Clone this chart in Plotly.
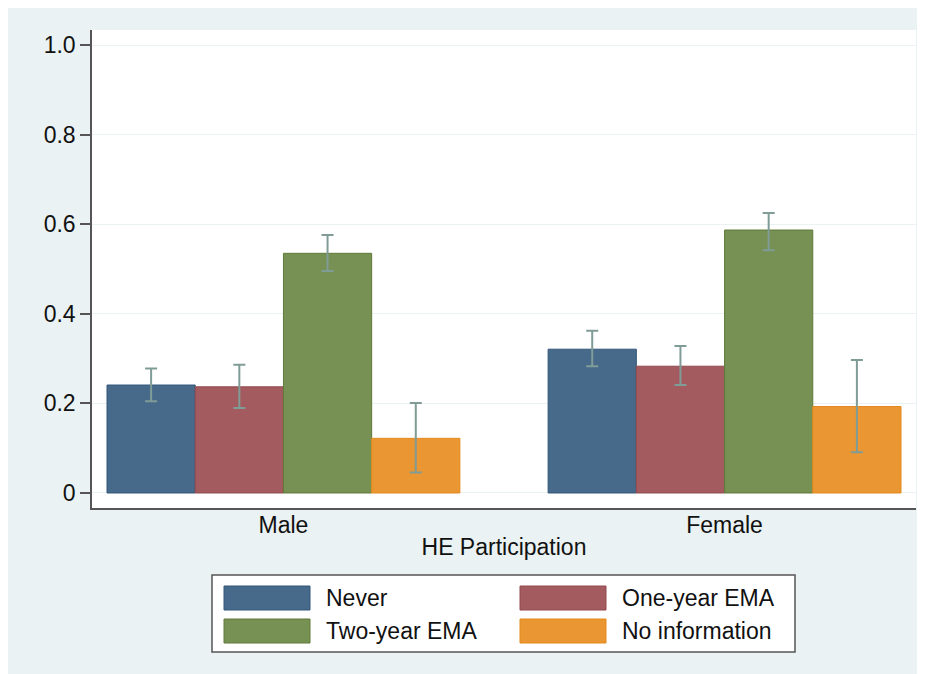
import plotly.graph_objects as go

groups = ["Male", "Female"]
series = ["Never", "One-year EMA", "Two-year EMA", "No information"]
colors = ["#476a8b", "#a45b5f", "#779053", "#ea9632"]
lines = ["#33577a", "#94494e", "#5f7a3a", "#e48a1f"]

means = {
    "Never": [0.241, 0.321],
    "One-year EMA": [0.237, 0.283],
    "Two-year EMA": [0.535, 0.587],
    "No information": [0.122, 0.193],
}
upper = {
    "Never": [0.278, 0.362],
    "One-year EMA": [0.286, 0.328],
    "Two-year EMA": [0.576, 0.625],
    "No information": [0.201, 0.297],
}
lower = {
    "Never": [0.205, 0.283],
    "One-year EMA": [0.190, 0.241],
    "Two-year EMA": [0.4955, 0.542],
    "No information": [0.046, 0.091],
}

yticks = [0, 0.2, 0.4, 0.6, 0.8, 1.0]
yticklabels = ["0", "0.2", "0.4", "0.6", "0.8", "1.0"]

BG = "#eaf2f3"
FONT = "Liberation Sans, Arial, sans-serif"
FS = 23

# page body has an 8px margin; figure placed at (8, 8)
OFF = 8
L, T, PW, PH = 92 - OFF, 30 - OFF, 824, 478
W, H = 925 - OFF, 674 - OFF

fig = go.Figure()
for s, c, lc in zip(series, colors, lines):
    m = means[s]
    fig.add_trace(go.Bar(
        name=s, x=groups, y=m,
        marker=dict(color=c, line=dict(color=lc, width=1)),
        error_y=dict(
            type="data", symmetric=False,
            array=[u - v for u, v in zip(upper[s], m)],
            arrayminus=[v - l for v, l in zip(m, lower[s])],
            color="#7f9c96", thickness=2, width=6,
        ),
        showlegend=False,
    ))

fig.update_layout(
    width=W, height=H,
    margin=dict(l=L, r=W - L - PW, t=T, b=H - T - PH),
    paper_bgcolor=BG, plot_bgcolor="white",
    barmode="group", bargap=0.2, bargroupgap=0,
    font=dict(family=FONT, size=FS, color="#111111"),
)
fig.update_xaxes(
    range=[-0.434, 1.434], showline=True, linecolor="#555555", linewidth=1.5,
    ticks="", showgrid=False, tickfont=dict(size=FS), ticklabelstandoff=-4,
    title=dict(text="HE Participation", font=dict(size=FS), standoff=2),
)
fig.update_yaxes(
    range=[-0.0335, 1.0335], tickvals=yticks, ticktext=yticklabels,
    showline=True, linecolor="#555555", linewidth=1.5,
    ticks="outside", ticklen=10, tickcolor="#555555", tickwidth=1.5,
    showgrid=True, gridcolor=BG, gridwidth=1, zeroline=False,
    tickfont=dict(size=FS),
)

def px(x):
    return (x - 92) / PW

def py(y):
    return (508 - y) / PH

# manual legend
fig.add_shape(type="rect", xref="paper", yref="paper",
              x0=px(212), x1=px(795), y0=py(575), y1=py(652),
              fillcolor="white", line=dict(color="#555555", width=1.5))
pos = [(224, 586), (520, 586), (224, 619), (520, 619)]
for s, c, lc, (x, y) in zip(series, colors, lines, pos):
    fig.add_shape(type="rect", xref="paper", yref="paper",
                  x0=px(x), x1=px(x + 86), y0=py(y), y1=py(y + 24),
                  fillcolor=c, line=dict(color=lc, width=1))
    fig.add_annotation(xref="paper", yref="paper", x=px(x + 100), y=py(y + 12),
                       text=s, showarrow=False, xanchor="left", yanchor="middle",
                       font=dict(size=FS, family=FONT, color="#111111"))

fig.write_html("out.html")
